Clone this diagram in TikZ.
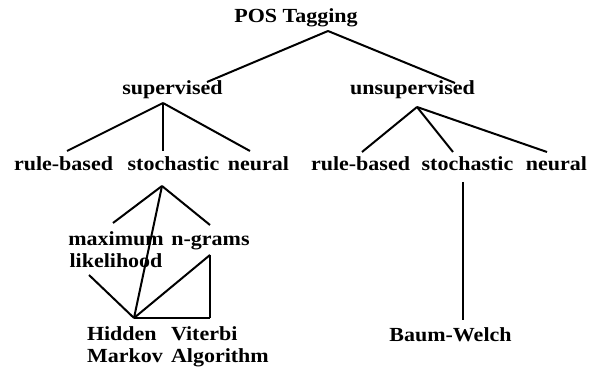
\documentclass[tikz,border=0pt]{standalone}
\usepackage{fontspec}
\setmainfont{Liberation Serif}[FakeStretch=1.1]
\begin{document}
\begin{tikzpicture}[x=1pt,y=-1pt,
  lbl/.style={inner sep=0pt,outer sep=0pt,font=\fontsize{20}{22.5}\selectfont\bfseries},
  edge/.style={line width=2pt,black}]
\useasboundingbox[fill=white] (0,0) rectangle (595,371);
% text nodes
\node[lbl,anchor=base] (pos) at (296,23) {POS Tagging};
\node[lbl,anchor=base] (sup) at (172.5,95) {supervised};
\node[lbl,anchor=base] (uns) at (412.5,95) {unsupervised};
\node[lbl,anchor=base] (srb) at (63.5,171) {rule-based};
\node[lbl,anchor=base] (sst) at (173.5,171) {stochastic};
\node[lbl,anchor=base] (sne) at (258.5,171) {neural};
\node[lbl,anchor=base] (urb) at (360.5,171) {rule-based};
\node[lbl,anchor=base] (ust) at (467.5,171) {stochastic};
\node[lbl,anchor=base] (une) at (556.5,171) {neural};
\node[lbl,anchor=base,align=center] (ml) at (116,268) {maximum\\likelihood};
\node[lbl,anchor=base] (ng) at (210.5,246) {n-grams};
\node[lbl,anchor=base west,align=left] (hm) at (87,363) {Hidden\\Markov};
\node[lbl,anchor=base west,align=left] (va) at (171,363) {Viterbi\\Algorithm};
\node[lbl,anchor=base] (bw) at (450.5,342) {Baum-Welch};
% connector ends
\coordinate (posB) at (328,31);
\coordinate (supT) at (207,82);
\coordinate (unsT) at (455,83);
\coordinate (supB) at (163,103);
\coordinate (srbT) at (67,151);
\coordinate (sstT) at (163,151);
\coordinate (sneT) at (250,151);
\coordinate (unsB) at (417,107);
\coordinate (urbT) at (362,152);
\coordinate (ustT) at (453,152);
\coordinate (uneT) at (547,152);
\coordinate (ustB) at (463,182);
\coordinate (bwT) at (463,320);
\coordinate (sstB) at (162,186);
\coordinate (mlT) at (113,223);
\coordinate (ngT) at (210,225);
\coordinate (hmT) at (134,318);
\coordinate (mlB) at (89,275);
\coordinate (ngB) at (210,255);
\coordinate (vaT) at (210,318);
% connectors
\draw[edge] (posB) -- (supT);
\draw[edge] (posB) -- (unsT);
\draw[edge] (supB) -- (srbT);
\draw[edge] (supB) -- (sstT);
\draw[edge] (supB) -- (sneT);
\draw[edge] (unsB) -- (urbT);
\draw[edge] (unsB) -- (ustT);
\draw[edge] (unsB) -- (uneT);
\draw[edge] (ustB) -- (bwT);
\draw[edge] (sstB) -- (mlT);
\draw[edge] (sstB) -- (ngT);
\draw[edge] (sstB) -- (hmT);
\draw[edge] (mlB) -- (hmT);
\draw[edge] (ngB) -- (hmT);
\draw[edge] (ngB) -- (vaT);
\draw[edge] (hmT) -- (vaT);
\end{tikzpicture}
\end{document}
